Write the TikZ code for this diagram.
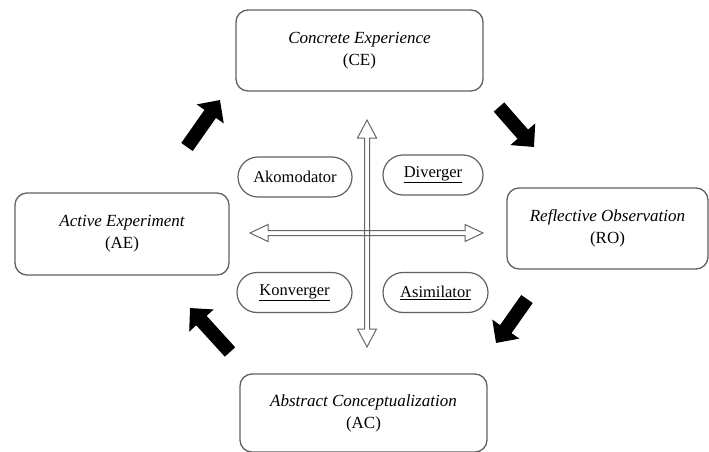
\documentclass[tikz,border=0pt]{standalone}
\usepackage{fontspec}
\setmainfont{Liberation Serif}
\usetikzlibrary{arrows.meta}
\begin{document}
\begin{tikzpicture}[x=1pt,y=-1pt,
  stage/.style={draw=black!62, line width=1.3pt, rounded corners=12pt, align=center,
    font=\fontsize{17}{22}\selectfont\itshape, inner sep=0pt},
  pill/.style={draw=black!62, line width=1.2pt, rounded corners=20pt, align=center,
    font=\fontsize{16.5}{18}\selectfont, inner sep=0pt, minimum height=40pt},
  axis/.style={draw=black!60, line width=1pt, fill=none},
  bigarrow/.style={draw=black, line width=14pt, -{Triangle[length=17pt,width=32pt]}}]
\useasboundingbox (0,0) rectangle (709,452);
% stages
\node[stage, minimum width=247pt, minimum height=81pt] (ce) at (359.5,50.5)
  {Concrete Experience\\\upshape(CE)};
\node[stage, minimum width=214pt, minimum height=82pt] (ae) at (122,234)
  {Active Experiment\\\upshape(AE)};
\node[stage, minimum width=201pt, minimum height=81pt] (ro) at (607.5,228.5)
  {Reflective Observation\\\upshape(RO)};
\node[stage, minimum width=247pt, minimum height=78pt] (ac) at (363.5,413)
  {Abstract Conceptualization\\\upshape(AC)};
% learning styles
\node[pill, minimum width=114pt] (ako) at (295,177) {Akomodator};
\node[pill, minimum width=100pt] (div) at (433,175) {\underline{Diverger}};
\node[pill, minimum width=115pt] (kon) at (294.5,292.5) {\underline{Konverger}};
\node[pill, minimum width=105pt] (asi) at (435.5,292.5) {\underline{Asimilator}};
% axes (double-line open arrows)
\draw[axis] (367,120) -- (376.5,138) -- (369.5,138) -- (369.5,329) -- (376.5,329)
  -- (367,347) -- (357.5,329) -- (364.5,329) -- (364.5,138) -- (357.5,138) -- cycle;
\draw[axis] (250,233) -- (268,224.5) -- (268,230.5) -- (465,230.5) -- (465,224.5)
  -- (483,233) -- (465,241.5) -- (465,235.5) -- (268,235.5) -- (268,241.5) -- cycle;
% cycle arrows
\coordinate (a1s) at (187,147); \coordinate (a1e) at (220,100);
\coordinate (a2s) at (499,107); \coordinate (a2e) at (534,147);
\coordinate (a3s) at (527,299); \coordinate (a3e) at (496,343);
\coordinate (a4s) at (230,352); \coordinate (a4e) at (190,308);
\draw[bigarrow] (a1s) -- (a1e);
\draw[bigarrow] (a2s) -- (a2e);
\draw[bigarrow] (a3s) -- (a3e);
\draw[bigarrow] (a4s) -- (a4e);
\end{tikzpicture}
\end{document}
